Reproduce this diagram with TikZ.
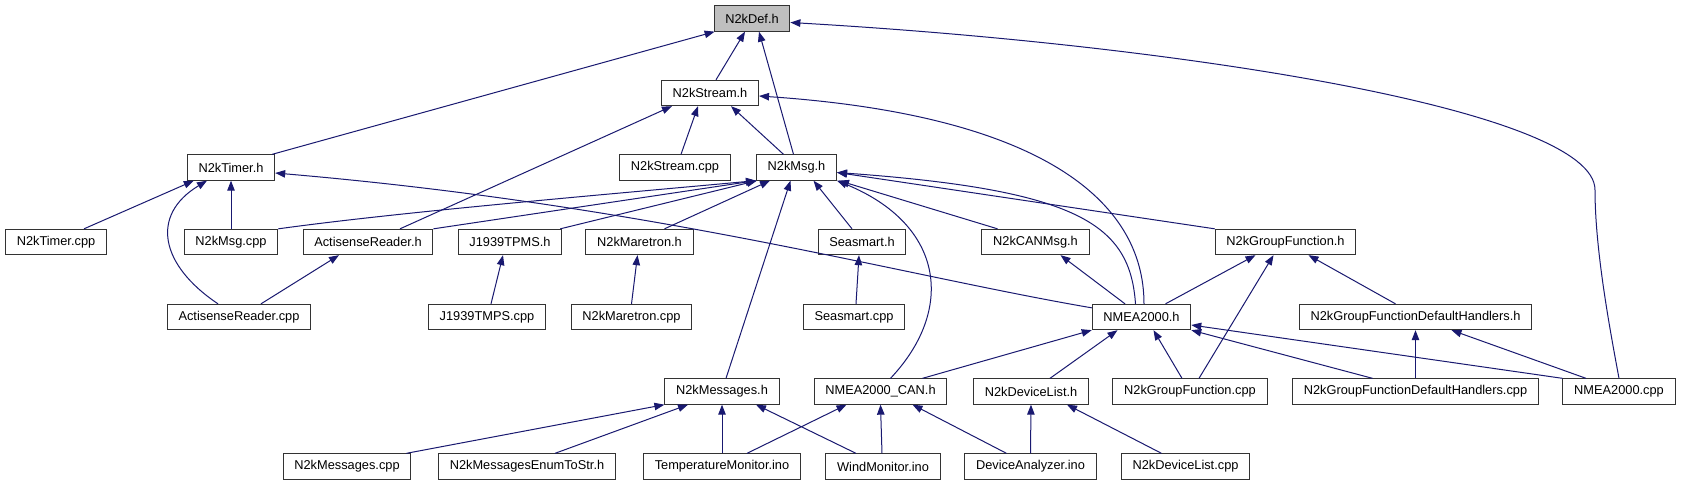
\documentclass[tikz,border=0pt]{standalone}
\usepackage{fontspec}
\setmainfont{Liberation Sans}
\usetikzlibrary{arrows.meta, calc}
\definecolor{edgeblue}{HTML}{191970}
\definecolor{rootgray}{HTML}{BFBFBF}

\begin{document}
\begin{tikzpicture}[x=0.75pt, y=-0.75pt, >={Triangle[length=7.5pt, width=5.6pt]},
  every node/.style={font=\fontsize{9.6}{11}\selectfont},
  file/.style={draw=black!80, line width=0.75pt, fill=white, minimum height=19pt, inner xsep=8.4pt, inner ysep=0pt},
  inc/.style={->, color=edgeblue, line width=0.75pt}]
  \fill[white] (0,0) rectangle (1682,485);
  % files, row by row
  \node[file, fill=rootgray] (def) at (752,18.5) {N2kDef.h};
  \node[file] (stream) at (710,93) {N2kStream.h};
  \node[file] (timer) at (231,167.5) {N2kTimer.h};
  \node[file] (streamcpp) at (675,167.5) {N2kStream.cpp};
  \node[file] (msg) at (796.5,167.5) {N2kMsg.h};
  \node[file] (timercpp) at (56,242) {N2kTimer.cpp};
  \node[file] (msgcpp) at (231,242) {N2kMsg.cpp};
  \node[file] (actih) at (368,242) {ActisenseReader.h};
  \node[file] (tpmsh) at (510,242) {J1939TPMS.h};
  \node[file] (maretronh) at (639.5,242) {N2kMaretron.h};
  \node[file] (seasmarth) at (862,242) {Seasmart.h};
  \node[file] (canmsgh) at (1035.5,242) {N2kCANMsg.h};
  \node[file] (grouph) at (1285.5,242) {N2kGroupFunction.h};
  \node[file] (acticpp) at (239,317) {ActisenseReader.cpp};
  \node[file] (tpmscpp) at (487,317) {J1939TMPS.cpp};
  \node[file] (maretroncpp) at (631.5,317) {N2kMaretron.cpp};
  \node[file] (seasmartcpp) at (854,317) {Seasmart.cpp};
  \node[file] (nmeah) at (1141.5,317) {NMEA2000.h};
  \node[file] (handlersh) at (1415.5,317) {N2kGroupFunctionDefaultHandlers.h};
  \node[file] (messagesh) at (722,391.5) {N2kMessages.h};
  \node[file] (canh) at (880.5,391.5) {NMEA2000\_CAN.h};
  \node[file] (devlisth) at (1031,391.5) {N2kDeviceList.h};
  \node[file] (groupcpp) at (1190,391.5) {N2kGroupFunction.cpp};
  \node[file] (handlerscpp) at (1415.5,391.5) {N2kGroupFunctionDefaultHandlers.cpp};
  \node[file] (nmeacpp) at (1619,391.5) {NMEA2000.cpp};
  \node[file] (messagescpp) at (347,466.5) {N2kMessages.cpp};
  \node[file] (enumh) at (527,466.5) {N2kMessagesEnumToStr.h};
  \node[file] (tempino) at (722,466.5) {TemperatureMonitor.ino};
  \node[file] (windino) at (883,466.5) {WindMonitor.ino};
  \node[file] (devino) at (1030.5,466.5) {DeviceAnalyzer.ino};
  \node[file] (devlistcpp) at (1185.5,466.5) {N2kDeviceList.cpp};

  % includes of N2kDef.h
  \draw[inc] ($(timer.north east)+(-3,0)$) -- ($(def.south west)+(1,0)$);
  \draw[inc] ($(stream.north)+(6,0)$) -- ($(def.south)+(-7,0)$);
  \draw[inc] ($(msg.north)+(-3,0)$) -- ($(def.south)+(7,0)$);
  \draw[inc] (nmeacpp.north) .. controls (1610,330) and (1595,250) .. (1595,190) .. controls (1595,110) and (1180,45) .. ($(def.east)+(0,4)$);
  % N2kStream.h
  \draw[inc] ($(streamcpp.north)+(6,0)$) -- ($(stream.south)+(-12,0)$);
  \draw[inc] ($(msg.north)+(-13,0)$) -- ($(stream.south)+(21,0)$);
  \draw[inc] ($(actih.north)+(32,0)$) -- ($(stream.south west)+(11,0)$);
  \draw[inc] ($(nmeah.north)+(2.5,0)$) .. controls (1144,200) and (1040,115) .. ($(stream.east)+(0,3)$);
  % N2kTimer.h
  \draw[inc] ($(timercpp.north)+(28,0)$) -- ($(timer.south west)+(7,0)$);
  \draw[inc] (msgcpp.north) -- (timer.south);
  \draw[inc] ($(acticpp.north)+(-21,0)$) .. controls (160,265) and (150,215) .. ($(timer.south)+(-24,0)$);
  \draw[inc] ($(nmeah.north west)+(0,4)$) .. controls (900,275) and (650,205) .. ($(timer.east)+(0,5.5)$);
  % N2kMsg.h
  \draw[inc] (msgcpp.north east) .. controls (400,212) and (600,195) .. (msg.south west);
  \draw[inc] (actih.north east) -- (msg.south west);
  \draw[inc] ($(tpmsh.north east)+(-2,0)$) -- ($(msg.south west)+(1,0)$);
  \draw[inc] ($(maretronh.north)+(25,0)$) -- ($(msg.south west)+(14,0)$);
  \draw[inc] ($(messagesh.north)+(4,0)$) -- ($(msg.south)+(-6,0)$);
  \draw[inc] ($(seasmarth.north)+(-10,0)$) -- ($(msg.south)+(17,0)$);
  \draw[inc] ($(canh.north)+(10,0)$) .. controls (955,310) and (945,225) .. (msg.south east);
  \draw[inc] ($(canmsgh.north)+(-38,0)$) -- ($(msg.south east)+(2,0)$);
  \draw[inc] ($(nmeah.north)+(-6,0)$) .. controls (1130,225) and (1080,190) .. ($(msg.east)+(0,5)$);
  \draw[inc] (grouph.north west) -- ($(msg.east)+(0,5)$);
  % ActisenseReader.h and the small headers
  \draw[inc] ($(acticpp.north)+(22,0)$) -- ($(actih.south)+(-29,0)$);
  \draw[inc] ($(tpmscpp.north)+(4,0)$) -- ($(tpmsh.south)+(-7,0)$);
  \draw[inc] (maretroncpp.north) -- ($(maretronh.south)+(-2,0)$);
  \draw[inc] ($(seasmartcpp.north)+(2,0)$) -- ($(seasmarth.south)+(-3,0)$);
  % N2kCANMsg.h, N2kGroupFunction.h
  \draw[inc] ($(nmeah.north)+(-16.5,0)$) -- ($(canmsgh.south)+(25,0)$);
  \draw[inc] ($(nmeah.north)+(24,0)$) -- ($(grouph.south)+(-30,0)$);
  \draw[inc] ($(handlersh.north)+(-20,0)$) -- ($(grouph.south)+(23,0)$);
  \draw[inc] ($(groupcpp.north)+(9,0)$) -- ($(grouph.south)+(-12,0)$);
  % NMEA2000.h
  \draw[inc] ($(canh.north)+(42,0)$) -- (nmeah.south west);
  \draw[inc] ($(devlisth.north)+(19,0)$) -- ($(nmeah.south)+(-24,0)$);
  \draw[inc] ($(groupcpp.north)+(-8,0)$) -- ($(nmeah.south)+(12,0)$);
  \draw[inc] ($(handlerscpp.north)+(-43,0)$) -- (nmeah.south east);
  \draw[inc] (nmeacpp.north west) -- ($(nmeah.east)+(0,8)$);
  % N2kGroupFunctionDefaultHandlers.h
  \draw[inc] (handlerscpp.north) -- (handlersh.south);
  \draw[inc] ($(nmeacpp.north)+(-33,0)$) -- ($(handlersh.south)+(36,0)$);
  % bottom row
  \draw[inc] ($(messagescpp.north east)+(-5,0)$) -- (messagesh.south west);
  \draw[inc] ($(enumh.north)+(28,0)$) -- ($(messagesh.south)+(-34,0)$);
  \draw[inc] (tempino.north) -- (messagesh.south);
  \draw[inc] ($(windino.north)+(-27,0)$) -- ($(messagesh.south)+(34,0)$);
  \draw[inc] ($(tempino.north)+(25,0)$) -- ($(canh.south)+(-34,0)$);
  \draw[inc] ($(windino.north)+(-1,0)$) -- (canh.south);
  \draw[inc] ($(devino.north)+(-24,0)$) -- ($(canh.south)+(32,0)$);
  \draw[inc] (devino.north) -- (devlisth.south);
  \draw[inc] ($(devlistcpp.north)+(-24,0)$) -- ($(devlisth.south)+(36,0)$);
\end{tikzpicture}
\end{document}
